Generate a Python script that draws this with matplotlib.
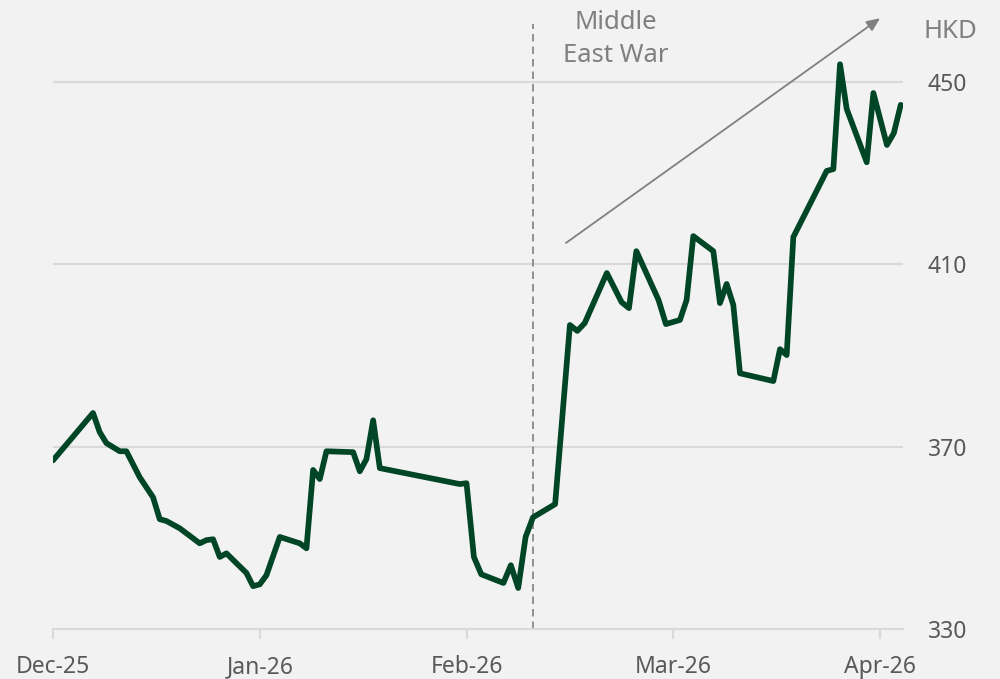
import calendar
from datetime import date

import matplotlib
matplotlib.use("Agg")
import matplotlib.pyplot as plt

# Daily closing price, HKD
dates = [
    "2025-12-01", "2025-12-07", "2025-12-08", "2025-12-09", "2025-12-11", "2025-12-12",
    "2025-12-14", "2025-12-16", "2025-12-17", "2025-12-18", "2025-12-20", "2025-12-23",
    "2025-12-24", "2025-12-25", "2025-12-26", "2025-12-27", "2025-12-30", "2025-12-31",
    "2026-01-01", "2026-01-02", "2026-01-04", "2026-01-07", "2026-01-08", "2026-01-09",
    "2026-01-10", "2026-01-11", "2026-01-15", "2026-01-16", "2026-01-17", "2026-01-18",
    "2026-01-19", "2026-01-31", "2026-02-01", "2026-02-02", "2026-02-03", "2026-02-06",
    "2026-02-07", "2026-02-08", "2026-02-09", "2026-02-10", "2026-02-13", "2026-02-15",
    "2026-02-16", "2026-02-17", "2026-02-20", "2026-02-22", "2026-02-23", "2026-02-24",
    "2026-02-27", "2026-02-28", "2026-03-02", "2026-03-03", "2026-03-04", "2026-03-07",
    "2026-03-08", "2026-03-09", "2026-03-10", "2026-03-11", "2026-03-16", "2026-03-17",
    "2026-03-18", "2026-03-19", "2026-03-24", "2026-03-25", "2026-03-26", "2026-03-27",
    "2026-03-30", "2026-03-31", "2026-04-02", "2026-04-03", "2026-04-04",
]
prices = [
    367.0, 377.4, 373.2, 370.8, 369.0, 369.0,
    363.3, 358.9, 354.1, 353.7, 352.1, 348.8,
    349.5, 349.7, 345.8, 346.6, 342.3, 339.4,
    339.8, 341.8, 350.2, 348.8, 347.7, 364.9,
    362.9, 369.0, 368.8, 364.6, 367.3, 375.8,
    365.3, 361.8, 362.0, 345.8, 342.0, 340.1,
    344.0, 339.0, 350.2, 354.5, 357.4, 396.7,
    395.4, 397.1, 408.1, 401.7, 400.4, 412.9,
    402.2, 396.9, 397.8, 402.2, 416.2, 412.9,
    401.5, 405.7, 401.1, 386.1, 384.4, 391.4,
    390.1, 416.0, 430.5, 430.9, 453.9, 444.1,
    432.4, 447.6, 436.2, 438.8, 445.0,
]

month_labels = ["Dec-25", "Jan-26", "Feb-26", "Mar-26", "Apr-26"]
y_ticks = [330, 370, 410, 450]
event_date = "2026-02-10"
event_label = "Middle\nEast War"

START = date(2025, 12, 1)


def month_pos(s):
    # months since the start, each month given the same width
    d = date.fromisoformat(s)
    months = (d.year - START.year) * 12 + d.month - START.month
    ndays = calendar.monthrange(d.year, d.month)[1]
    return months + (d.day - 1) / ndays


x = [month_pos(s) for s in dates]

bg = "#f2f2f2"
green = "#004526"
grid_c = "#d9d9d9"
text_c = "#595959"
note_c = "#808080"

plt.rcParams["font.family"] = ["Noto Sans", "DejaVu Sans"]

fig = plt.figure(figsize=(10, 6.79), dpi=100, facecolor=bg)
ax = fig.add_axes([0.053, 0.0736, 0.85, 0.9264], facecolor=bg)

ax.plot(x, prices, color=green, lw=4.1, solid_joinstyle="round", solid_capstyle="round", zorder=3)

ax.set_xlim(0, 4.111)
ax.set_ylim(330, 468)

ax.set_yticks(y_ticks)
ax.yaxis.tick_right()
ax.tick_params(axis="y", length=0, pad=18, labelsize=16.5, labelcolor=text_c)
ax.grid(axis="y", color=grid_c, lw=1.5)
ax.set_axisbelow(True)

ax.set_xticks(range(len(month_labels)))
ax.set_xticklabels(month_labels)
ax.tick_params(axis="x", length=7, width=1.5, color=grid_c, pad=12, labelsize=16.5, labelcolor=text_c)

for side in ["top", "right", "left"]:
    ax.spines[side].set_visible(False)
ax.spines["bottom"].set_color(grid_c)
ax.spines["bottom"].set_linewidth(1.5)

# event marker
ex = month_pos(event_date)
ax.plot([ex, ex], [330, 462.7], color=note_c, lw=1.2, ls=(0, (4.5, 3)), zorder=2)
fig.text(0.616, 1 - 39 / 679, event_label, ha="center", va="center",
         fontsize=18.5, color=note_c, linespacing=1.45)

# trend arrow
ax.annotate("", xy=(4.0, 464.0), xytext=(2.481, 414.7),
            arrowprops=dict(arrowstyle="-|>,head_length=0.8,head_width=0.35",
                            color=note_c, lw=1.3, shrinkA=0, shrinkB=0),
            annotation_clip=False)

fig.text(0.95, 1 - 32 / 679, "HKD", ha="center", va="center", fontsize=18.5, color=note_c)

fig.savefig("out.png", dpi=100, facecolor=bg)
